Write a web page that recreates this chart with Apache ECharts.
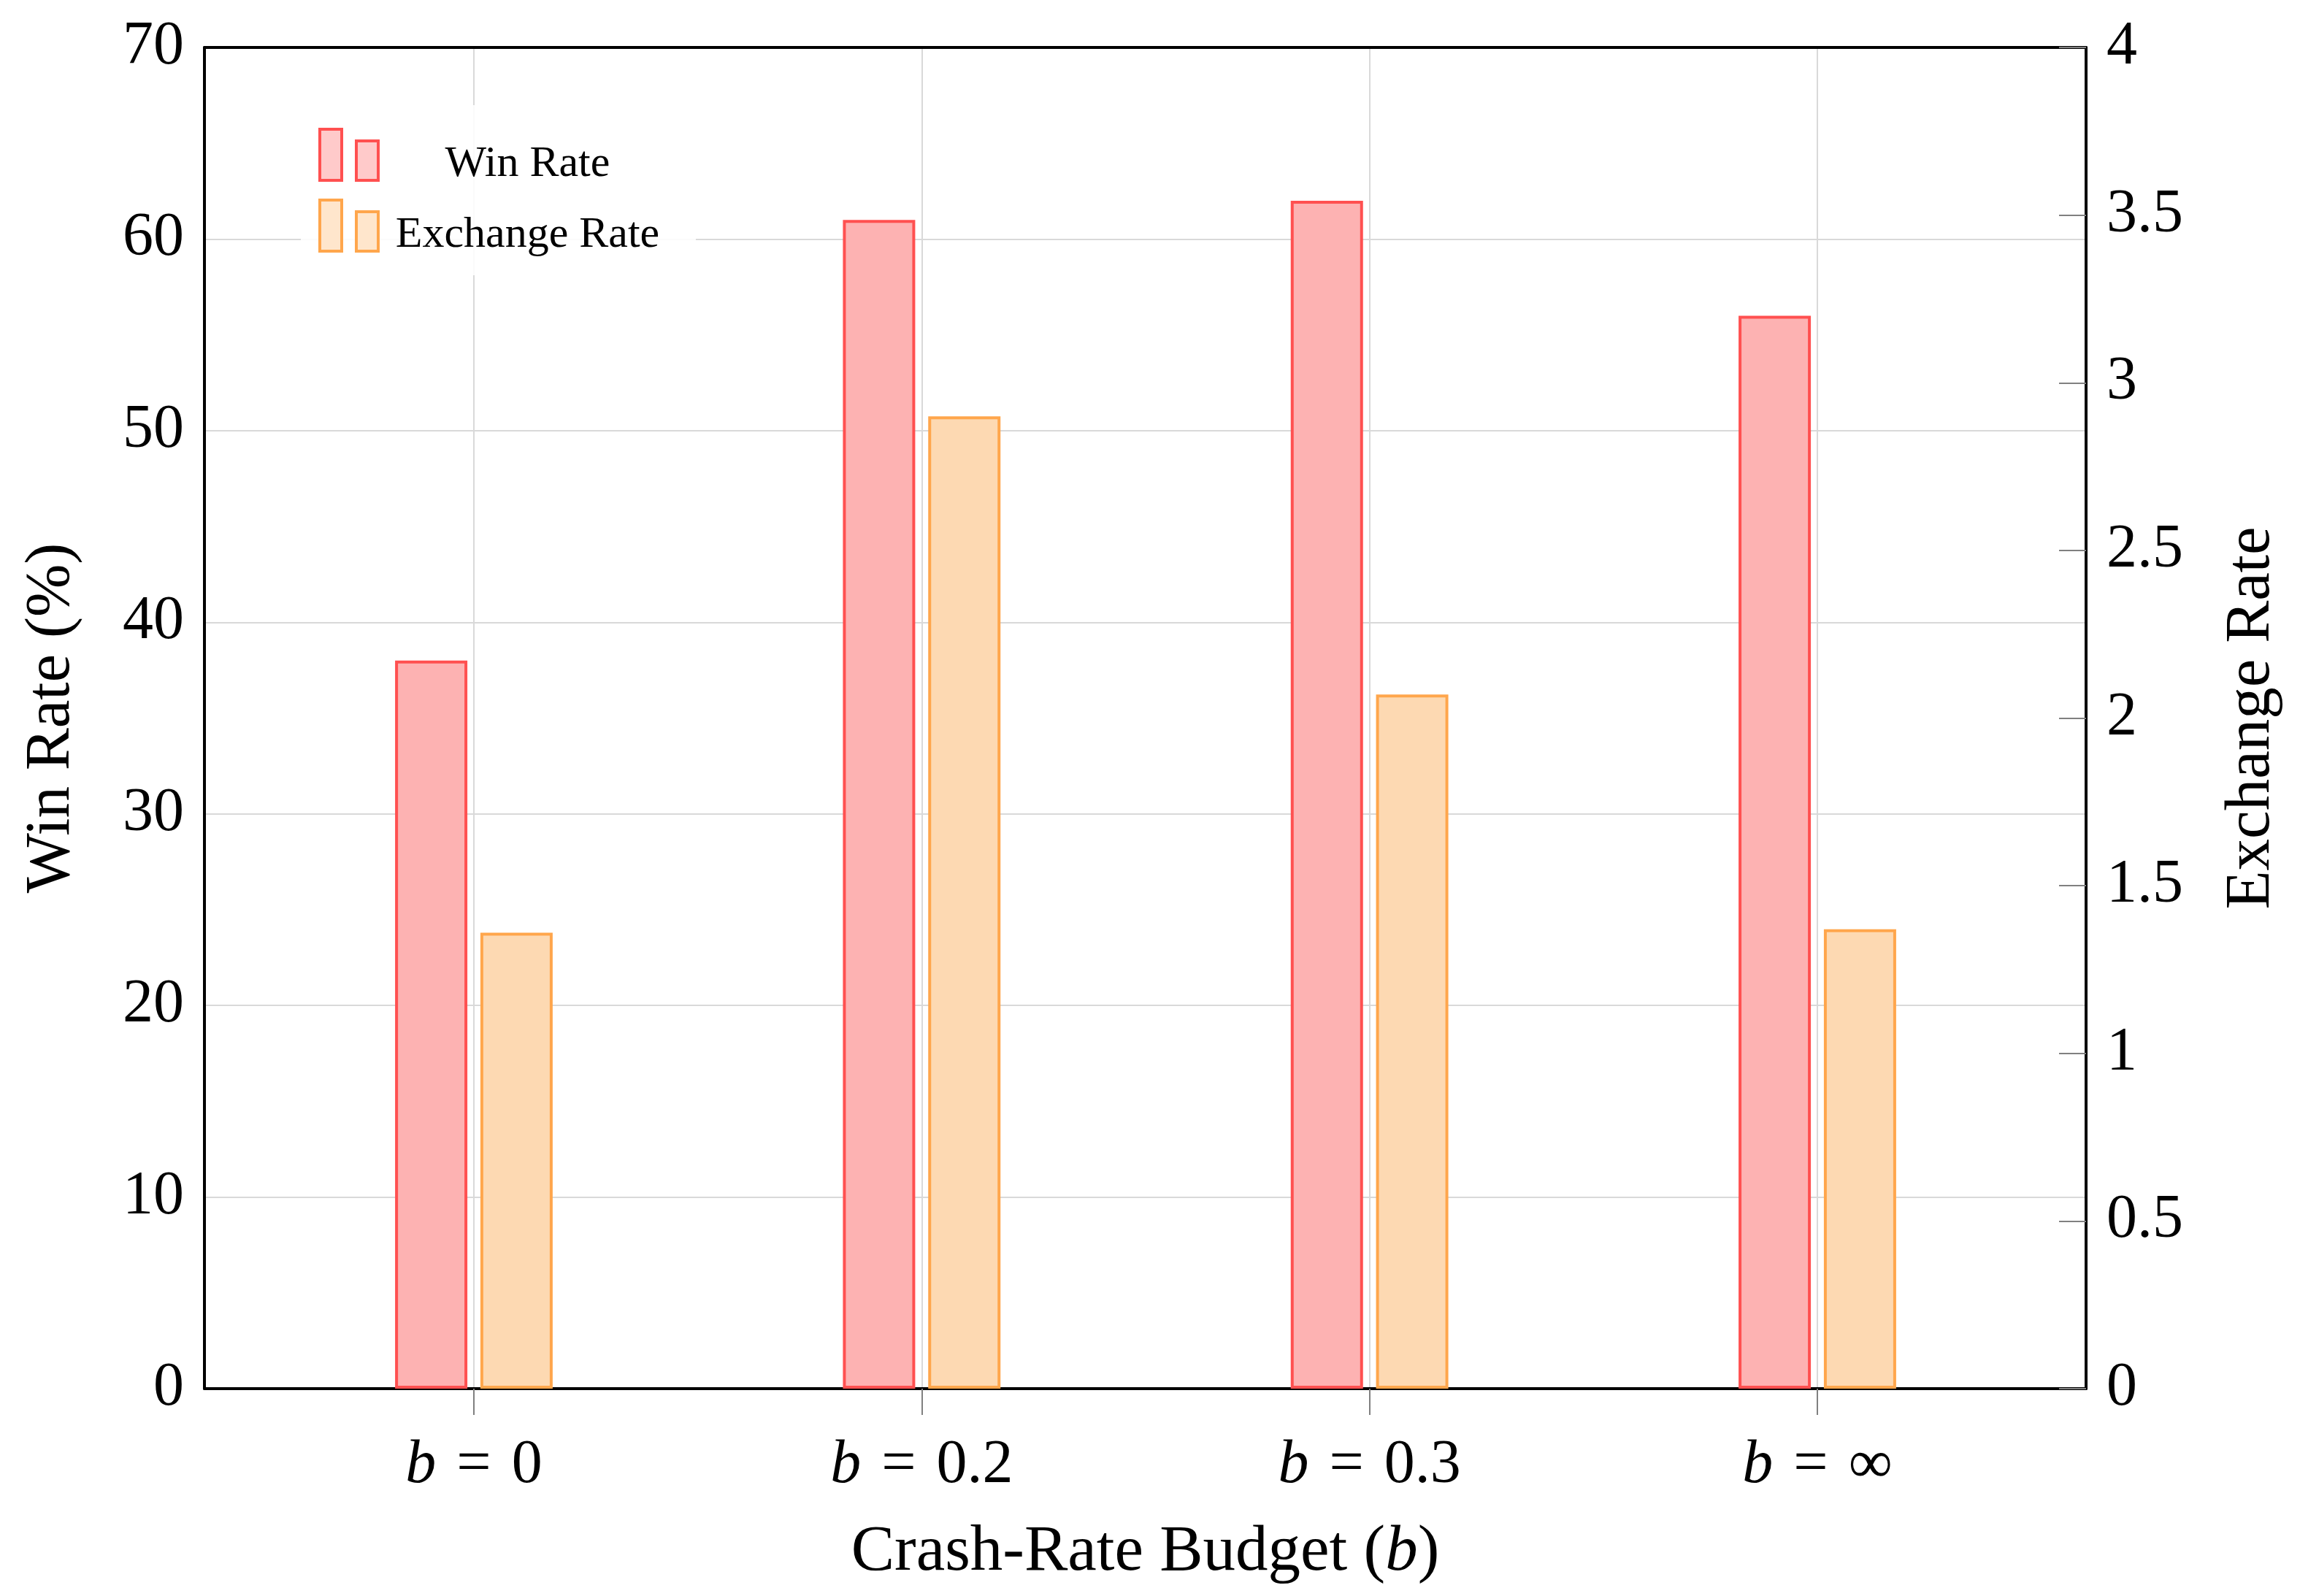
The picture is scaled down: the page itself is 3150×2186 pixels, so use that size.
<!DOCTYPE html>
<html><head><meta charset="utf-8">
<script src="https://cdn.jsdelivr.net/npm/echarts@6/dist/echarts.min.js"></script>
<style>html,body{margin:0;padding:0;background:#fff}#c{width:3150px;height:2186px}</style>
</head><body><div id="c"></div>
<script>
// ---- data ----
const budgets = ['0', '0.2', '0.3', '\u221E'];
const winRate = [38, 61, 62, 56];
const exchangeRate = [1.36, 2.90, 2.07, 1.37];
const winTicks = { min: 0, max: 70, interval: 10 };
const exTicks = { min: 0, max: 4, interval: 0.5 };

const FONT = 'Liberation Serif';
const FS = 84;
const RED = '#FF5050', RED_FILL = '#FDB2B2';
const ORG = '#FFA64C', ORG_FILL = '#FDD9B2';
const GRID_C = '#D9D9D9';

const chart = echarts.init(document.getElementById('c'), null, { renderer: 'canvas' });
const frame = { left: 280, right: 293, top: 65, bottom: 284 };
const bars = { left: 649, right: 661, top: 65, bottom: 284 };
const txt = { fontFamily: FONT, fontSize: FS, color: '#000' };
const title = { fontFamily: FONT, fontSize: 87, color: '#000' };
const SP = '\u2004';

chart.setOption({
  backgroundColor: '#fff',
  animation: false,
  grid: [
    Object.assign({ containLabel: false }, frame),
    Object.assign({ containLabel: false }, bars)
  ],
  legend: {
    orient: 'vertical',
    left: 412, top: 144,
    padding: [25, 31, 25, 24],
    backgroundColor: 'rgba(255,255,255,0.88)',
    itemWidth: 80, itemHeight: 70, itemGap: 11,
    icon: 'path://M0,0H30V70H0Z M50,16H80V70H50Z',
    formatter: '{t|{name}}',
    textStyle: {
      rich: { t: { width: 399, align: 'center', fontFamily: FONT, fontSize: 60, lineHeight: 46, color: '#000', padding: [26, 0, 0, 0] } }
    },
    data: [
      { name: 'Win Rate', itemStyle: { color: '#FFCACA', borderColor: RED, borderWidth: 4 } },
      { name: 'Exchange Rate', itemStyle: { color: '#FFE6CC', borderColor: ORG, borderWidth: 4 } }
    ]
  },
  xAxis: [
    { gridIndex: 0, type: 'value', min: 0, max: 1, position: 'bottom',
      axisLine: { show: true, onZero: false, lineStyle: { color: '#000', width: 4 } },
      axisTick: { show: false }, axisLabel: { show: false }, splitLine: { show: false },
      name: 'Crash-Rate Budget ({i|b})', nameLocation: 'middle', nameGap: 180,
      nameTextStyle: Object.assign({}, title, { fontSize: 89, rich: { i: Object.assign({}, title, { fontSize: 89, fontStyle: 'italic' }) } }) },
    { gridIndex: 0, type: 'value', min: 0, max: 1, position: 'top',
      axisLine: { show: true, onZero: false, lineStyle: { color: '#000', width: 4 } },
      axisTick: { show: false }, axisLabel: { show: false }, splitLine: { show: false } },
    { gridIndex: 1, type: 'category', boundaryGap: false, data: budgets, position: 'bottom',
      axisLine: { show: false, onZero: false },
      axisTick: { show: true, inside: false, length: 36, interval: 0, lineStyle: { color: '#808080', width: 2 } },
      splitLine: { show: true, interval: 0, lineStyle: { color: GRID_C, width: 2 } },
      axisLabel: { show: true, interval: 0, margin: 64,
        formatter: v => '{i|b}' + SP + '=' + SP + v,
        fontFamily: FONT, fontSize: FS, color: '#000',
        rich: { i: Object.assign({}, txt, { fontStyle: 'italic' }) } } }
  ],
  yAxis: [
    { gridIndex: 0, type: 'value', position: 'left', min: winTicks.min, max: winTicks.max, interval: winTicks.interval,
      axisLine: { show: true, onZero: false, lineStyle: { color: '#000', width: 4 } },
      axisTick: { show: false },
      axisLabel: Object.assign({ margin: 28 }, txt),
      splitLine: { show: true, lineStyle: { color: GRID_C, width: 2 } },
      name: 'Win Rate (%)', nameLocation: 'middle', nameRotate: 90, nameGap: 165,
      nameTextStyle: title },
    { gridIndex: 0, type: 'value', position: 'right', min: exTicks.min, max: exTicks.max, interval: exTicks.interval,
      axisLine: { show: true, onZero: false, lineStyle: { color: '#000', width: 4 } },
      axisTick: { show: true, inside: true, length: 37, lineStyle: { color: '#808080', width: 2 } },
      axisLabel: Object.assign({ margin: 28 }, txt),
      splitLine: { show: false },
      name: 'Exchange Rate', nameLocation: 'middle', nameRotate: 90, nameGap: 184,
      nameTextStyle: title },
    { gridIndex: 1, type: 'value', min: winTicks.min, max: winTicks.max, show: false },
    { gridIndex: 1, type: 'value', min: exTicks.min, max: exTicks.max, show: false }
  ],
  series: [
    { name: 'Win Rate', type: 'bar', xAxisIndex: 2, yAxisIndex: 2, data: winRate,
      barWidth: 99, barGap: '18%', clip: false, z: 3,
      itemStyle: { color: RED_FILL, borderColor: RED, borderWidth: 4 } },
    { name: 'Exchange Rate', type: 'bar', xAxisIndex: 2, yAxisIndex: 3, data: exchangeRate,
      barWidth: 99, barGap: '18%', clip: false, z: 3,
      itemStyle: { color: ORG_FILL, borderColor: ORG, borderWidth: 4 } }
  ]
});
</script></body></html>
